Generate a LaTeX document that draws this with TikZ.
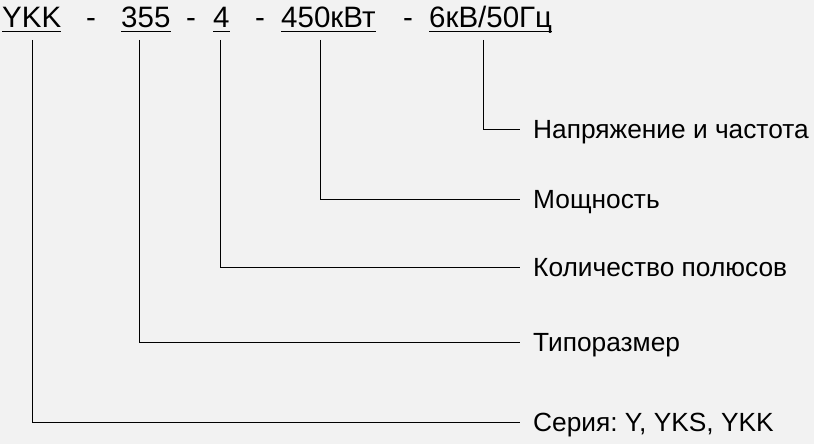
\documentclass[tikz,border=0pt]{standalone}
\usepackage{fontspec}
\setmainfont{Liberation Sans}
\definecolor{bgcolor}{RGB}{242,242,242}
\frenchspacing

\begin{document}
\begin{tikzpicture}[x=1pt,y=-1pt,
		code/.style={inner sep=0pt, anchor=base west, font=\fontsize{29.5}{31}\selectfont},
		sepsign/.style={inner sep=0pt, anchor=base, font=\fontsize{29.5}{31}\selectfont},
		part/.style={inner sep=0pt, anchor=west, text height=18.8pt, text depth=0pt, font=\fontsize{26.3}{28}\selectfont},
		uline/.style={line width=1.8pt},
		lead/.style={line width=1pt, shorten >=13pt}]
			\fill[bgcolor] (0,0) rectangle (814,444);
			% marking string
			\node[code] (ykk) at (2,27.5) {YKK};
			\node[sepsign] (s1) at (91,27.5) {-};
			\node[code] (size) at (121,27.5) {355};
			\node[sepsign] (s2) at (191,27.5) {-};
			\node[code] (poles) at (213,27.5) {4};
			\node[sepsign] (s3) at (260,27.5) {-};
			\node[code] (power) at (281,27.5) {450кВт};
			\node[sepsign] (s4) at (408,27.5) {-};
			\node[code] (volt) at (429,27.5) {6кВ/50Гц};
			\draw[uline] ([yshift=-4pt]ykk.base west) -- ([yshift=-4pt]ykk.base east);
			\draw[uline] ([yshift=-4pt]size.base west) -- ([yshift=-4pt]size.base east);
			\draw[uline] ([yshift=-4pt]poles.base west) -- ([yshift=-4pt]poles.base east);
			\draw[uline] ([yshift=-4pt]power.base west) -- ([yshift=-4pt]power.base east);
			\draw[uline] ([yshift=-4pt]volt.base west) -- ([yshift=-4pt]volt.base east);
			% explanations
			\node[part] (voltlab) at (533,129) {Напряжение и частота};
			\node[part] (powerlab) at (533,199) {Мощность};
			\node[part] (poleslab) at (533,267) {Количество полюсов};
			\node[part] (sizelab) at (533,342) {Типоразмер};
			\node[part] (serlab) at (533,422) {Серия: Y, YKS, YKK};
			\coordinate (c1) at (32,40);
			\coordinate (c2) at (139,40);
			\coordinate (c3) at (220,40);
			\coordinate (c4) at (320,40);
			\coordinate (c5) at (483,40);
			\draw[lead] (c1) |- (serlab.west);
			\draw[lead] (c2) |- (sizelab.west);
			\draw[lead] (c3) |- (poleslab.west);
			\draw[lead] (c4) |- (powerlab.west);
			\draw[lead] (c5) |- (voltlab.west);
		\end{tikzpicture}
\end{document}
